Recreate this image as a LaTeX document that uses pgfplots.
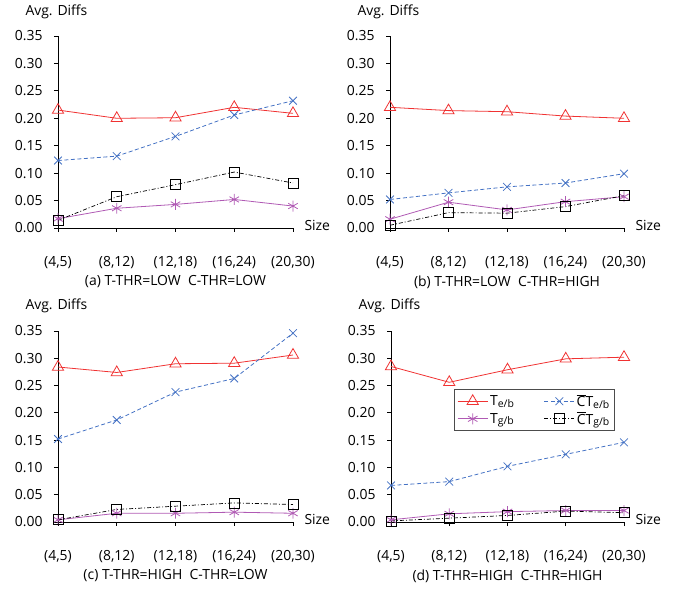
\documentclass[border=0pt]{standalone}
\usepackage{fontspec}
\setmainfont{Open Sans}
\usepackage{pgfplots}
\usepackage{pgfplotstable}
\pgfplotsset{compat=1.18}

\definecolor{cRed}{RGB}{240,50,50}
\definecolor{cBlue}{RGB}{68,114,196}
\definecolor{cPurple}{RGB}{176,90,180}

% columns: te = T_e/b, tg = T_g/b, cte = CT_e/b, ctg = CT_g/b
\pgfplotstableread{
x te    tg    cte   ctg
0 0.215 0.017 0.123 0.014
1 0.200 0.036 0.131 0.057
2 0.201 0.043 0.167 0.079
3 0.220 0.052 0.206 0.102
4 0.209 0.040 0.232 0.082
}\dataA
\pgfplotstableread{
x te    tg    cte   ctg
0 0.220 0.016 0.052 0.005
1 0.214 0.047 0.064 0.028
2 0.212 0.033 0.075 0.027
3 0.204 0.048 0.082 0.039
4 0.200 0.057 0.099 0.059
}\dataB
\pgfplotstableread{
x te    tg    cte   ctg
0 0.284 0.004 0.152 0.004
1 0.274 0.016 0.187 0.023
2 0.290 0.016 0.238 0.029
3 0.291 0.018 0.263 0.035
4 0.306 0.016 0.346 0.032
}\dataC
\pgfplotstableread{
x te    tg    cte   ctg
0 0.285 0.004 0.067 0.002
1 0.256 0.015 0.074 0.007
2 0.279 0.019 0.102 0.012
3 0.299 0.021 0.124 0.020
4 0.302 0.021 0.146 0.017
}\dataD

\newcommand{\sub}[1]{\raisebox{-0.25ex}{\fontsize{10.5}{12}\selectfont #1}}
\newcommand{\cbar}{$\overline{\hbox{C}}$}

\pgfplotsset{
  panel/.style={
    scale only axis, clip=false,
    font=\fontsize{14}{16}\selectfont,
    /pgf/number format/assume math mode=true,
    xmin=0, xmax=4, ymin=0, ymax=0.35,
    xtick={0,1,2,3,4},
    xticklabels={(4{,}5),(8{,}12),(12{,}18),(16{,}24),(20{,}30)},
    ytick={0,0.05,0.1,0.15,0.2,0.25,0.3,0.35},
    yticklabel style={/pgf/number format/fixed,/pgf/number format/fixed zerofill,
      /pgf/number format/precision=2, xshift=-8bp},
    xticklabel style={yshift=-21bp},
    axis x line=bottom, axis y line=left, axis line style={-, line width=0.8bp},
    tick align=outside, major tick length=4bp, tick style={black, line width=0.8bp},
    xlabel={Size},
    xlabel style={at={(axis description cs:1,0)}, anchor=west, xshift=8bp, yshift=3bp},
  },
  te/.style={cRed, line width=0.8bp, mark=triangle, mark size=6.5pt, mark options={solid}},
  tg/.style={cPurple, line width=0.8bp, mark=asterisk, mark size=5.5pt, mark options={solid}},
  cte/.style={cBlue, line width=0.8bp, dash pattern=on 4bp off 2.5bp, mark=x, mark size=5.5pt, mark options={solid}},
  ctg/.style={black, line width=0.7bp, dash pattern=on 4bp off 2bp on 1bp off 2bp, mark=square, mark size=5pt, mark options={solid}},
}

\newcommand{\drawpanel}[1]{%
  \addplot[te] table[x=x,y=te] {#1};
  \addplot[cte] table[x=x,y=cte] {#1};
  \addplot[tg] table[x=x,y=tg] {#1};
  \addplot[ctg] table[x=x,y=ctg] {#1};
}

\begin{document}
\begin{tikzpicture}
\useasboundingbox (0,0) rectangle (685bp,589bp);

\begin{axis}[panel, width=235bp, height=192bp, at={(58bp,361bp)}, anchor=south west]
\drawpanel{\dataA}
\node[anchor=west] at (rel axis cs:0,1) [xshift=-36bp, yshift=24bp] {Avg. Diffs};
\node at (rel axis cs:0.5,0) [yshift=-54bp] {(a) T-THR=LOW\ \ C-THR=LOW};
\end{axis}

\begin{axis}[panel, width=234bp, height=192bp, at={(390bp,361bp)}, anchor=south west]
\drawpanel{\dataB}
\node[anchor=west] at (rel axis cs:0,1) [xshift=-36bp, yshift=24bp] {Avg. Diffs};
\node at (rel axis cs:0.5,0) [yshift=-54bp] {(b) T-THR=LOW\ \ C-THR=HIGH};
\end{axis}

\begin{axis}[panel, width=235bp, height=191bp, at={(58bp,67bp)}, anchor=south west]
\drawpanel{\dataC}
\node[anchor=west] at (rel axis cs:0,1) [xshift=-36bp, yshift=25bp] {Avg. Diffs};
\node at (rel axis cs:0.5,0) [yshift=-54bp] {(c) T-THR=HIGH\ \ C-THR=LOW};
\end{axis}

\begin{axis}[panel, width=233bp, height=191bp, at={(391bp,67bp)}, anchor=south west,
  legend columns=2,
  legend style={at={(rel axis cs:0.27,0.696)}, anchor=north west, draw=black!70,
    line width=0.8bp, font=\fontsize{14}{16}\selectfont, inner sep=3bp,
    /tikz/every even column/.append style={column sep=28bp},
    /tikz/every row/.append style={row sep=2bp}},
  legend image code/.code={\draw[mark repeat=2,mark phase=2,#1]
    plot coordinates {(0bp,0bp) (15bp,0bp) (30bp,0bp)};}]
\drawpanel{\dataD}
\legend{T\sub{e/b}, \cbar T\sub{e/b}, T\sub{g/b}, \cbar T\sub{g/b}}
\node[anchor=west] at (rel axis cs:0,1) [xshift=-36bp, yshift=25bp] {Avg. Diffs};
\node at (rel axis cs:0.5,0) [yshift=-54bp] {(d) T-THR=HIGH\ \ C-THR=HIGH};
\end{axis}
\end{tikzpicture}
\end{document}
